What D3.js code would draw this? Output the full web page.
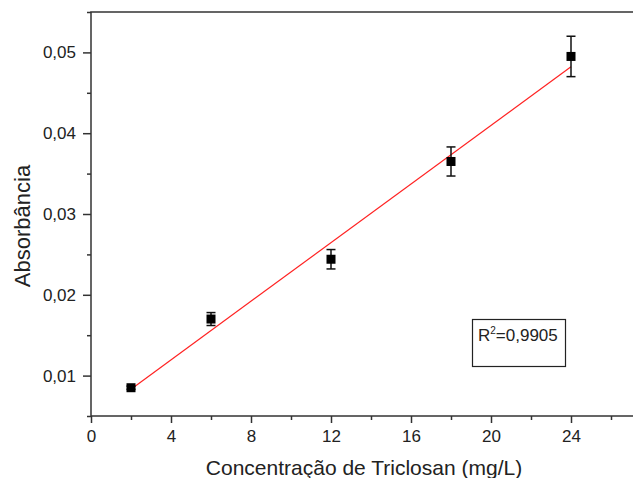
<!DOCTYPE html>
<html>
<head>
<meta charset="utf-8">
<script src="https://cdn.jsdelivr.net/npm/d3@7"></script>
<style>
  body { margin: 0; background: #fff; }
  text { font-family: "Liberation Sans", Arial, sans-serif; fill: #222; }
</style>
</head>
<body>
<div id="chart"></div>
<script>

// data
let conc = [2, 6, 12, 18, 24];
let absorb = [0.0085, 0.0170, 0.0244, 0.0365, 0.0495];
let absorb_err = [0.0002, 0.0008, 0.0012, 0.0018, 0.0025];
let x_major_ticks = [0, 4, 8, 12, 16, 20, 24];
let x_minor_ticks = [2, 6, 10, 14, 18, 22, 26];
let y_major_ticks = [0.01, 0.02, 0.03, 0.04, 0.05];
let y_minor_ticks = [0.005, 0.015, 0.025, 0.035, 0.045, 0.055];
let r2_label = "0,9905";

let chart_width = 633;
let chart_height = 478;

let margin_top = 12;
let margin_left = 91;
let plot_bottom = 416;

let svg = d3.select("#chart")
    .append("svg")
    .attr("width", chart_width)
    .attr("height", chart_height);

let xScale = d3.scaleLinear()
    .domain([0, 28])
    .range([margin_left, margin_left + 28 * 20]);

let yScale = d3.scaleLinear()
    .domain([0.005, 0.055])
    .range([plot_bottom, margin_top]);

let pt = d3.formatLocale({ decimal: ",", thousands: ".", grouping: [3], currency: ["", ""] });

// frame (right side falls outside the picture)
svg.append("rect")
    .attr("x", xScale(0))
    .attr("y", yScale(0.055))
    .attr("width", xScale(28) - xScale(0))
    .attr("height", yScale(0.005) - yScale(0.055))
    .attr("fill", "none")
    .attr("stroke", "#333")
    .attr("stroke-width", 1.5);

// x axis
let x_axis = svg.append("g")
    .attr("transform", "translate(0," + plot_bottom + ")")
    .call(d3.axisBottom(xScale).tickValues(x_major_ticks).tickSize(7).tickPadding(7).tickFormat(d3.format("d")));
x_axis.select(".domain").remove();
x_axis.selectAll(".tick line").attr("stroke", "#333").attr("stroke-width", 1.5);
x_axis.selectAll("text").style("font-size", "17px").attr("fill", "#222");

let x_minor = svg.append("g")
    .attr("transform", "translate(0," + plot_bottom + ")")
    .call(d3.axisBottom(xScale).tickValues(x_minor_ticks).tickSize(4).tickFormat(""));
x_minor.select(".domain").remove();
x_minor.selectAll(".tick line").attr("stroke", "#333").attr("stroke-width", 1.5);

// y axis
let y_axis = svg.append("g")
    .attr("transform", "translate(" + margin_left + ",0)")
    .call(d3.axisLeft(yScale).tickValues(y_major_ticks).tickSize(8).tickPadding(7).tickFormat(pt.format(".2f")));
y_axis.select(".domain").remove();
y_axis.selectAll(".tick line").attr("stroke", "#333").attr("stroke-width", 1.5);
y_axis.selectAll("text").style("font-size", "17px").attr("fill", "#222");

let y_minor = svg.append("g")
    .attr("transform", "translate(" + margin_left + ",0)")
    .call(d3.axisLeft(yScale).tickValues(y_minor_ticks).tickSize(4).tickFormat(""));
y_minor.select(".domain").remove();
y_minor.selectAll(".tick line").attr("stroke", "#333").attr("stroke-width", 1.5);

// axis titles
svg.append("text")
    .attr("x", (203 + 525) / 2)
    .attr("y", 475)
    .attr("text-anchor", "middle")
    .style("font-size", "21px")
    .text("Concentração de Triclosan (mg/L)");

svg.append("text")
    .attr("transform", "translate(30,226) rotate(-90)")
    .attr("text-anchor", "middle")
    .style("font-size", "22px")
    .text("Absorbância");

// linear fit from the points
let mean_x = d3.mean(conc);
let mean_y = d3.mean(absorb);
let sxy = d3.sum(conc, function(d, i) { return (d - mean_x) * (absorb[i] - mean_y); });
let sxx = d3.sum(conc, function(d) { return (d - mean_x) * (d - mean_x); });
let slope = sxy / sxx;
let intercept = mean_y - slope * mean_x;

let fit_x = [d3.min(conc), d3.max(conc)];
svg.append("path")
    .datum(fit_x)
    .attr("d", d3.line()
        .x(function(d) { return xScale(d); })
        .y(function(d) { return yScale(intercept + slope * d); }))
    .attr("fill", "none")
    .attr("stroke", "#f22")
    .attr("stroke-width", 1.2);

// error bars
let points = conc.map(function(d, i) { return { x: d, y: absorb[i], e: absorb_err[i] }; });
let err = svg.selectAll(".err")
    .data(points)
    .enter()
    .append("g")
    .attr("class", "err")
    .attr("stroke", "#111")
    .attr("stroke-width", 1.5);

err.append("line")
    .attr("x1", function(d) { return xScale(d.x); })
    .attr("x2", function(d) { return xScale(d.x); })
    .attr("y1", function(d) { return yScale(d.y + d.e); })
    .attr("y2", function(d) { return yScale(d.y - d.e); });
err.append("line")
    .attr("x1", function(d) { return xScale(d.x) - 4.5; })
    .attr("x2", function(d) { return xScale(d.x) + 4.5; })
    .attr("y1", function(d) { return yScale(d.y + d.e); })
    .attr("y2", function(d) { return yScale(d.y + d.e); });
err.append("line")
    .attr("x1", function(d) { return xScale(d.x) - 4.5; })
    .attr("x2", function(d) { return xScale(d.x) + 4.5; })
    .attr("y1", function(d) { return yScale(d.y - d.e); })
    .attr("y2", function(d) { return yScale(d.y - d.e); });

// markers
svg.selectAll(".pt")
    .data(points)
    .enter()
    .append("rect")
    .attr("class", "pt")
    .attr("x", function(d) { return xScale(d.x) - 4.5; })
    .attr("y", function(d) { return yScale(d.y) - 4.5; })
    .attr("width", 9)
    .attr("height", 9)
    .attr("fill", "#000");

// R2 box
svg.append("rect")
    .attr("x", 472.5)
    .attr("y", 319.5)
    .attr("width", 93)
    .attr("height", 47)
    .attr("fill", "#fff")
    .attr("stroke", "#222")
    .attr("stroke-width", 1.2);

let r2 = svg.append("text")
    .attr("x", 478)
    .attr("y", 341)
    .style("font-size", "17px");
r2.append("tspan").text("R");
r2.append("tspan").attr("dy", -7).style("font-size", "10px").text("2");
r2.append("tspan").attr("dy", 7).text("=" + r2_label);

</script>
</body>
</html>
